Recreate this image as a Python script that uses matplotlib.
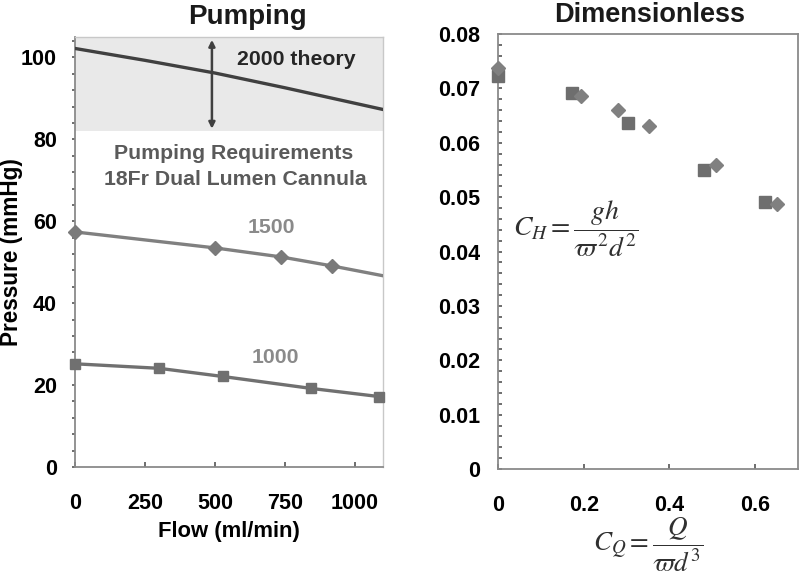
import matplotlib
matplotlib.use("Agg")
import matplotlib.pyplot as plt
from matplotlib.ticker import MultipleLocator

plt.rcParams['font.family'] = ['Liberation Sans', 'DejaVu Sans']
plt.rcParams['mathtext.fontset'] = 'stix'

# ---- data: left panel (Pumping) ----
theory_flow = [0, 250, 500, 750, 1100]
theory_p2000 = [102.2, 99.3, 96.2, 92.6, 87.3]

flow_1500 = [0, 500, 736, 918]
p_1500 = [57.4, 53.5, 51.3, 49.1]
line_flow_1500 = [0, 500, 736, 918, 1100]
line_p_1500 = [57.4, 53.5, 51.3, 49.1, 46.7]

flow_1000 = [0, 300, 528, 842, 1086]
p_1000 = [25.2, 24.1, 22.1, 19.2, 17.2]

req_low, req_high = 82.0, 105.0
arrow_flow = 489
left_xticks = [0, 250, 500, 750, 1000]
left_yticks = [0, 20, 40, 60, 80, 100]

# ---- data: right panel (Dimensionless) ----
cq_sq = [0.0, 0.172, 0.303, 0.481, 0.624]
ch_sq = [0.0722, 0.0692, 0.0637, 0.0550, 0.0491]
cq_di = [0.0, 0.193, 0.280, 0.352, 0.508, 0.651]
ch_di = [0.0737, 0.0686, 0.0660, 0.0631, 0.0559, 0.0488]
right_xticks = [0, 0.2, 0.4, 0.6]
right_xticklabels = ['0', '0.2', '0.4', '0.6']
right_yticks = [0, 0.01, 0.02, 0.03, 0.04, 0.05, 0.06, 0.07, 0.08]
right_yticklabels = ['0', '0.01', '0.02', '0.03', '0.04', '0.05', '0.06', '0.07', '0.08']

fig = plt.figure(figsize=(8.0, 5.73), dpi=100)
W, H = 800, 573

def ax_rect(l, t, r, b):
    return [l / W, 1 - b / H, (r - l) / W, (b - t) / H]

spine_col = '#8a8a8a'
tick_fs = 15.5
ann_fs = 15.3

# ---------- left ----------
ax1 = fig.add_axes(ax_rect(75, 37, 383, 467))
ax1.set_xlim(0, 1100)
ax1.set_ylim(0, 105)
ax1.axhspan(req_low, req_high, facecolor='#e9e9e9', edgecolor='none', zorder=0)
ax1.plot(theory_flow, theory_p2000, color='#404040', lw=2.4, zorder=3)
ax1.plot(line_flow_1500, line_p_1500, color='#808080', lw=2.4, zorder=3)
ax1.plot(flow_1500, p_1500, linestyle='none', marker='D', ms=7.5, color='#7a7a7a',
         zorder=4, clip_on=False)
ax1.plot(flow_1000, p_1000, color='#707070', lw=2.4, marker='s', ms=6.5, zorder=4,
         clip_on=False)
ax1.annotate('', xy=(arrow_flow, 82.6), xytext=(arrow_flow, 104.3),
             arrowprops=dict(arrowstyle='<|-|>', color='#404040', lw=1.8,
                             mutation_scale=9, shrinkA=0, shrinkB=0), zorder=5)
ax1.text(789, 98.2, '2000 theory', ha='center', va='baseline', fontsize=ann_fs,
         fontweight='bold', color='#262626')
ax1.text(568, 75.3, 'Pumping Requirements', ha='center', va='baseline', fontsize=ann_fs,
         fontweight='bold', color='#5a5a5a')
ax1.text(571, 68.8, '18Fr Dual Lumen Cannula', ha='center', va='baseline', fontsize=ann_fs,
         fontweight='bold', color='#5a5a5a')
ax1.text(703, 57.2, '1500', ha='center', va='baseline', fontsize=ann_fs,
         fontweight='bold', color='#8a8a8a')
ax1.text(714, 25.4, '1000', ha='center', va='baseline', fontsize=ann_fs,
         fontweight='bold', color='#8a8a8a')

ax1.set_xticks(left_xticks)
ax1.set_xticklabels([str(v) for v in left_xticks])
ax1.set_yticks(left_yticks)
ax1.set_yticklabels([str(v) for v in left_yticks])
ax1.yaxis.set_minor_locator(MultipleLocator(4))
ax1.tick_params(axis='x', direction='in', length=3.6, width=1.2, color='#555555',
                pad=18.5, labelsize=tick_fs)
ax1.tick_params(axis='y', which='major', direction='out', length=2.5, width=1.2,
                color='#555555', pad=10.4, labelsize=tick_fs)
ax1.tick_params(axis='y', which='minor', direction='out', length=2.5, width=1.2,
                color='#555555')
for lab in ax1.get_xticklabels() + ax1.get_yticklabels():
    lab.set_fontweight('bold')
ax1.set_xlabel('Flow (ml/min)', fontsize=15.8, fontweight='bold', labelpad=5)
ax1.set_ylabel('Pressure (mmHg)', fontsize=16.3, fontweight='bold')
ax1.yaxis.set_label_coords((23 - 75) / 308, 0.5)
for s in ['left', 'bottom']:
    ax1.spines[s].set_color(spine_col)
    ax1.spines[s].set_linewidth(1.3)
for s in ['top', 'right']:
    ax1.spines[s].set_color('#c8c8c8')
    ax1.spines[s].set_linewidth(1.0)

# ---------- right ----------
ax2 = fig.add_axes(ax_rect(498, 34, 798, 469))
ax2.set_xlim(0, 0.7)
ax2.set_ylim(0, 0.08)
ax2.plot(cq_sq, ch_sq, linestyle='none', marker='s', ms=8.5, color='#6e6e6e',
         zorder=4, clip_on=False)
ax2.plot(cq_di, ch_di, linestyle='none', marker='D', ms=7, color='#808080',
         zorder=4, clip_on=False)
ax2.text(0.0346, 0.0441, r'$C_H = \dfrac{gh}{\varpi^2 d^2}$', fontsize=20,
         ha='left', va='center', color='#303030')
ax2.set_xticks(right_xticks)
ax2.set_xticklabels(right_xticklabels)
ax2.set_yticks(right_yticks)
ax2.set_yticklabels(right_yticklabels)
ax2.yaxis.set_minor_locator(MultipleLocator(0.002))
ax2.tick_params(axis='x', direction='in', length=3.6, width=1.2, color='#555555',
                pad=18.5, labelsize=tick_fs)
ax2.tick_params(axis='y', which='major', direction='in', length=3, width=1.2,
                color='#555555', pad=13, labelsize=tick_fs)
ax2.tick_params(axis='y', which='minor', direction='in', length=3, width=1.2,
                color='#555555')
for lab in ax2.get_xticklabels() + ax2.get_yticklabels():
    lab.set_fontweight('bold')
ax2.set_xlabel(r'$C_Q = \dfrac{Q}{\varpi d^3}$', fontsize=19.5, labelpad=0,
               color='#303030')
for s in ['left', 'bottom', 'top', 'right']:
    ax2.spines[s].set_color(spine_col)
    ax2.spines[s].set_linewidth(1.3)

fig.text(247 / W, 1 - 24 / H, 'Pumping', ha='center', va='baseline',
         fontsize=20, fontweight='bold', color='#1a1a1a')
fig.text(650 / W, 1 - 22 / H, 'Dimensionless', ha='center', va='baseline',
         fontsize=19.5, fontweight='bold', color='#1a1a1a')

fig.savefig('out.png', dpi=100)
